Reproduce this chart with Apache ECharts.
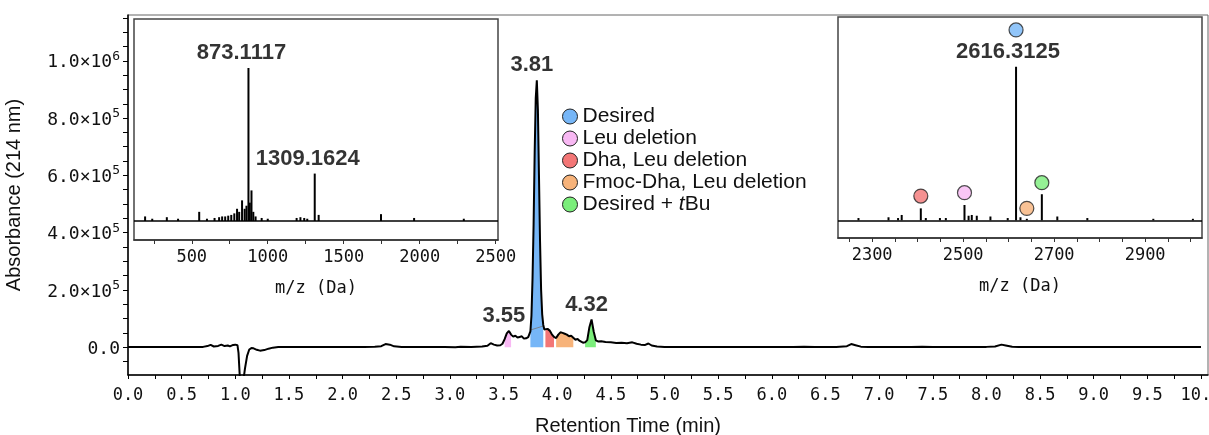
<!DOCTYPE html>
<html><head><meta charset="utf-8">
<script src="https://cdn.jsdelivr.net/npm/echarts@6/dist/echarts.min.js"></script>
<style>html,body{margin:0;padding:0;background:#fff}#c{width:1209px;height:435px}</style>
</head><body><div id="c"></div>
<script>
// ---------- DATA ----------
const rtTime = [0.00,0.10,0.20,0.30,0.40,0.50,0.60,0.70,0.74,0.77,0.80,0.84,0.87,0.90,0.93,0.95,0.98,1.00,1.02,1.03,1.04,1.05,1.07,1.09,1.11,1.13,1.15,1.17,1.20,1.23,1.27,1.31,1.35,1.40,1.50,1.60,1.70,1.80,1.90,2.00,2.10,2.20,2.30,2.36,2.40,2.44,2.48,2.55,2.65,2.75,2.85,2.95,3.05,3.10,3.20,3.30,3.35,3.38,3.41,3.44,3.47,3.49,3.51,3.53,3.55,3.57,3.59,3.61,3.63,3.65,3.67,3.69,3.71,3.73,3.75,3.76,3.77,3.78,3.79,3.80,3.81,3.82,3.83,3.84,3.85,3.86,3.87,3.88,3.89,3.91,3.93,3.95,3.97,3.99,4.01,4.03,4.05,4.07,4.09,4.11,4.13,4.15,4.17,4.19,4.21,4.24,4.26,4.28,4.30,4.32,4.34,4.36,4.38,4.41,4.45,4.50,4.55,4.60,4.65,4.70,4.74,4.78,4.82,4.85,4.88,4.93,5.00,5.10,5.20,5.30,5.40,5.50,5.60,5.70,5.80,5.90,6.00,6.10,6.20,6.30,6.40,6.50,6.60,6.70,6.74,6.78,6.83,6.90,7.00,7.10,7.20,7.30,7.40,7.50,7.60,7.70,7.80,7.90,8.00,8.08,8.14,8.18,8.24,8.30,8.40,8.50,8.60,8.70,8.80,8.90,9.00,9.10,9.20,9.30,9.40,9.50,9.60,9.70,9.80,9.90,10.00];
const rtAbs = [1000,800,1200,900,1100,700,1000,1200,4000,8000,2500,4500,9000,4000,6000,3000,8000,9000,7000,-20000,-90000,-150000,-130000,-75000,-30000,-8000,-3000,-4000,-9000,-12000,-10000,-5000,-1500,500,1000,600,1200,800,1000,700,1100,900,1500,3500,11000,9000,3000,1000,700,1200,500,900,-500,1500,1000,2500,5000,14000,9000,6000,7000,12000,28000,48000,57000,44000,37000,40000,34000,36000,38000,30000,31000,35000,55000,110000,240000,430000,680000,870000,932000,830000,600000,370000,200000,115000,78000,62000,58000,64000,58000,45000,36000,32000,44000,52000,50000,47000,44000,38000,40000,33000,26000,29000,22000,16000,17000,25000,70000,97000,55000,24000,20000,21000,18000,17000,15000,15500,14000,17000,12000,9000,8000,13000,6000,2500,800,1000,400,1100,600,900,1200,700,1000,800,1100,600,900,1300,800,700,1000,3500,11000,7000,2000,800,600,1200,900,1000,1400,800,1100,700,1000,900,1200,2500,9000,6000,1500,1000,800,1100,700,900,1000,1200,800,1000,900,1100,700,1000,900,1100,800,1000,900];

const speciesNames = ['Desired','Leu deletion','Dha, Leu deletion','Fmoc-Dha, Leu deletion','Desired + tBu'];
const speciesRanges = [[3.75,3.87],[3.51,3.57],[3.89,3.97],[3.99,4.15],[4.26,4.36]];
const peakLabelTimes = [3.55,3.81,4.32];
// integration skim baseline drawn under the main peak
const skimTime = [3.75,3.87];
const skimAbs = [60000,74000];

const xTicksRT = [0,0.25,0.5,0.75,1,1.25,1.5,1.75,2,2.25,2.5,2.75,3,3.25,3.5,3.75,4,4.25,4.5,4.75,5,5.25,5.5,5.75,6,6.25,6.5,6.75,7,7.25,7.5,7.75,8,8.25,8.5,8.75,9,9.25,9.5,9.75,10];
const xLabelsRT = [0,0.5,1,1.5,2,2.5,3,3.5,4,4.5,5,5.5,6,6.5,7,7.5,8,8.5,9,9.5,10];
const yTicksAbs = [-50000,0,50000,100000,150000,200000,250000,300000,350000,400000,450000,500000,550000,600000,650000,700000,750000,800000,850000,900000,950000,1000000,1050000,1100000,1150000];
const yLabelsAbs = [0,200000,400000,600000,800000,1000000];

// Inset 1: MS of main peak (m/z, relative intensity)
const ms1Mz  = [193,240,336,410,549,600,650,680,700,720,740,760,780,798,812,831,848,860,873.1117,882,893,905,920,960,1000,1190,1215,1240,1260,1309.1624,1335,1745,1963,2290];
const ms1Int = [3,1.5,2.5,1.5,6,1.5,2,2.5,3,3,3.5,4,5,8,6,13.5,8,10,100,12,20,6,3,2,1.5,2,2.5,2,1.5,31,4,4.5,2,1.5];
const ms1LabelMz = [873.1117,1309.1624];
const ms1Ticks = [250,500,750,1000,1250,1500,1750,2000,2250,2500];
const ms1Labels = [500,1000,1500,2000,2500];

// Inset 2: deconvoluted MS
const ms2Mz  = [2270,2336,2357,2365,2407,2418,2449,2462,2503,2512,2519,2530,2560,2598,2616.3125,2626,2640,2673,2707,2773,2918,3005];
const ms2Int = [1.5,2,1.5,3.5,7.8,1.5,1.5,1.5,10,3,3.5,3,2.5,1.5,100,2,1,17,2.5,1.5,1,1];
const ms2LabelMz = [2616.3125];
const ms2MarkMz = [2616.3125,2503,2407,2640,2673];   // same order as speciesNames
const ms2MarkInt = [124,18,15.8,7.8,24.5];
const ms2Ticks = [2250,2300,2350,2400,2450,2500,2550,2600,2650,2700,2750,2800,2850,2900,2950,3000];
const ms2Labels = [2300,2500,2700,2900];

// ---------- STYLE ----------
const speciesColors = ['#76b6f7','#f8b8f3','#f37676','#f7b37a','#7bee7b'];
const MONO = "'DejaVu Sans Mono', monospace";
const SANS = "'Liberation Sans', Arial, sans-serif";

const trace = rtTime.map((t,i)=>[t, rtAbs[i]]);
function absAt(t){ const i = rtTime.findIndex(v=>Math.abs(v-t)<1e-9); return rtAbs[i]; }

function yFmt(v){
  if (v===0) return '{b|0.0}';
  const e = Math.floor(Math.log10(v)+1e-9);
  const m = v/Math.pow(10,e);
  return '{b|'+m.toFixed(1)+'×10}{s|'+e+'}';
}
const monoLbl = {fontFamily:MONO,fontSize:17,color:'#111'};

const series = [];
speciesNames.forEach((n,k)=>{
  const [a,b] = speciesRanges[k];
  series.push({
    name:n, type:'line', xAxisIndex:0, yAxisIndex:0, symbol:'none', z:2,
    data: trace.filter(p=>p[0]>=a-1e-9 && p[0]<=b+1e-9),
    lineStyle:{width:0,opacity:0}, itemStyle:{color:speciesColors[k]},
    areaStyle:{color:speciesColors[k],opacity:1}
  });
});
series.push({type:'line', xAxisIndex:0, yAxisIndex:0, symbol:'none', z:3,
  data: skimTime.map((t,i)=>[t, skimAbs[i]]), lineStyle:{color:'#777',width:0.8}});
series.push({type:'line', xAxisIndex:0, yAxisIndex:0, symbol:'none', z:5, data:trace,
  lineStyle:{color:'#000',width:2}});
const boldLbl = {fontFamily:SANS,fontWeight:'bold',fontSize:22,color:'#000'};
series.push({type:'scatter', xAxisIndex:0, yAxisIndex:0, symbolSize:0, z:6,
  data: peakLabelTimes.map(t=>[t, absAt(t)]),
  label:{show:true, position:'top', distance:4, offset:[-5,0], formatter:p=>p.value[0].toFixed(2), ...boldLbl}});

// inset 1
series.push({type:'bar', xAxisIndex:1, yAxisIndex:1, barWidth:2, z:3,
  data: ms1Mz.map((m,i)=>[m, ms1Int[i]]), itemStyle:{color:'#000'},
  markLine:{symbol:'none', silent:true, label:{show:false}, lineStyle:{color:'#000',width:1.5,type:'solid'}, data:[{yAxis:0}]}});
series.push({type:'scatter', xAxisIndex:1, yAxisIndex:1, symbolSize:0, z:6,
  data: ms1LabelMz.map(m=>[m, ms1Int[ms1Mz.indexOf(m)]]),
  label:{show:true, position:'top', distance:4, offset:[-7,0], formatter:p=>p.value[0].toFixed(4), ...boldLbl}});

// inset 2
series.push({type:'bar', xAxisIndex:2, yAxisIndex:2, barWidth:2, z:3,
  data: ms2Mz.map((m,i)=>[m, ms2Int[i]]), itemStyle:{color:'#000'},
  markLine:{symbol:'none', silent:true, label:{show:false}, lineStyle:{color:'#000',width:1.5,type:'solid'}, data:[{yAxis:0}]}});
series.push({type:'scatter', xAxisIndex:2, yAxisIndex:2, symbolSize:0, z:6,
  data: ms2LabelMz.map(m=>[m, ms2Int[ms2Mz.indexOf(m)]]),
  label:{show:true, position:'top', distance:4, offset:[-8,0], formatter:p=>p.value[0].toFixed(4), ...boldLbl}});
series.push({type:'scatter', xAxisIndex:2, yAxisIndex:2, symbol:'circle', symbolSize:14, z:7,
  data: ms2MarkMz.map((m,i)=>({value:[m, ms2MarkInt[i]], itemStyle:{color:speciesColors[i]}})),
  itemStyle:{borderColor:'#222',borderWidth:1.2}});

const insetAxisX = (gi,min,max,ticks,labels)=>({
  type:'value', gridIndex:gi, min, max,
  axisLine:{onZero:false, lineStyle:{color:'#333',width:1.5}},
  axisTick:{customValues:ticks, inside:false, length:4, lineStyle:{color:'#333'}},
  axisLabel:{customValues:labels, margin:9, formatter:v=>String(v), ...monoLbl},
  splitLine:{show:false},
  name:'m/z (Da)', nameLocation:'middle', nameGap:40, nameTextStyle:{fontFamily:MONO,fontSize:17,color:'#111'}
});

const chart = echarts.init(document.getElementById('c'), null, {renderer:'canvas'});
chart.setOption({
  animation:false,
  backgroundColor:'#fff',
  grid:[
    {left:128, top:15, right:1, bottom:60, show:true, borderColor:'#666', borderWidth:1, backgroundColor:'#fff', outerBoundsMode:'none', containLabel:false},
    {left:134, top:19, width:364, height:221, show:true, borderColor:'#444', borderWidth:1.5, backgroundColor:'#fff', outerBoundsMode:'none', containLabel:false},
    {left:838, top:17, width:364, height:221, show:true, borderColor:'#444', borderWidth:1.5, backgroundColor:'#fff', outerBoundsMode:'none', containLabel:false}
  ],
  legend:{
    orient:'vertical', left:557, top:101, icon:'circle', itemWidth:15, itemHeight:15, itemGap:1,
    data: speciesNames.map((n,k)=>({name:n, itemStyle:{color:speciesColors[k], borderColor:'#222', borderWidth:1}})),
    formatter: n => n==='Desired + tBu' ? '{n|Desired + }{i|t}{n|Bu}' : '{n|'+n+'}',
    textStyle:{fontFamily:SANS, fontSize:21, color:'#111', lineHeight:21,
      rich:{n:{fontFamily:SANS,fontSize:21,color:'#111',lineHeight:21}, i:{fontFamily:SANS,fontSize:21,fontStyle:'italic',color:'#111',lineHeight:21}}}
  },
  xAxis:[
    {type:'value', gridIndex:0, min:0, max:10.065,
      axisLine:{onZero:false, lineStyle:{color:'#000',width:1.5}},
      axisTick:{customValues:xTicksRT, length:4, lineStyle:{color:'#000'}},
      axisLabel:{customValues:xLabelsRT, margin:12, formatter:v=>v.toFixed(1), ...monoLbl},
      splitLine:{show:false},
      name:'Retention Time (min)', nameLocation:'middle', nameGap:41,
      nameTextStyle:{fontFamily:SANS,fontSize:20,color:'#111',padding:[0,80,0,0]}},
    insetAxisX(1,120,2515,ms1Ticks,ms1Labels),
    insetAxisX(2,2225,3025,ms2Ticks,ms2Labels)
  ],
  yAxis:[
    {type:'value', gridIndex:0, min:-97000, max:1160000,
      axisLine:{show:true, lineStyle:{color:'#000',width:1.5}},
      axisTick:{show:true, customValues:yTicksAbs, length:5, lineStyle:{color:'#000'}},
      axisLabel:{customValues:yLabelsAbs, margin:8, formatter:yFmt,
        rich:{b:{fontFamily:MONO,fontSize:18,color:'#111',lineHeight:22,verticalAlign:'bottom'},
              s:{fontFamily:MONO,fontSize:13,color:'#111',lineHeight:22,verticalAlign:'top'}}},
      splitLine:{show:false},
      name:'Absorbance (214 nm)', nameLocation:'middle', nameGap:104, nameRotate:90,
      nameTextStyle:{fontFamily:SANS,fontSize:20,color:'#111'}},
    {type:'value', gridIndex:1, min:-12.4, max:132, show:false, splitLine:{show:false}},
    {type:'value', gridIndex:2, min:-11.5, max:132.4, show:false, splitLine:{show:false}}
  ],
  series
});
</script></body></html>
